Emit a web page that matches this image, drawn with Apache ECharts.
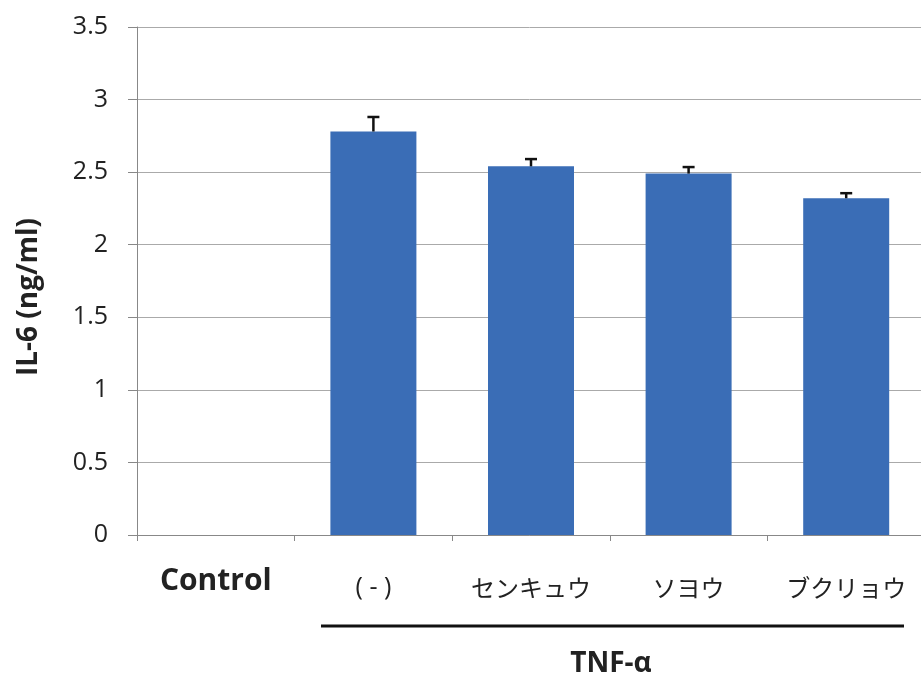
<!DOCTYPE html>
<html><head><meta charset="utf-8">
<script src="https://cdn.jsdelivr.net/npm/echarts@6/dist/echarts.min.js"></script>
<style>html,body{margin:0;padding:0;background:#fff}#c{width:921px;height:679px}</style>
</head><body><div id="c"></div>
<script>
var categories = ['Control', '( - )', 'センキュウ', 'ソヨウ', 'ブクリョウ'];
var means = [0, 2.78, 2.54, 2.49, 2.32];
var errTops = [0, 2.88, 2.59, 2.535, 2.355];
var yTicks = [0, 0.5, 1, 1.5, 2, 2.5, 3, 3.5];
var yTitle = 'IL-6 (ng/ml)';
var groupLabel = 'TNF-\u03b1';

var chart = echarts.init(document.getElementById('c'));
var font = '"Open Sans","Noto Sans CJK JP",sans-serif';
var jfont = '"Noto Sans CJK JP","Open Sans",sans-serif';
chart.setOption({
  animation: false,
  grid: {left: 137, top: 27, width: 788, height: 508, containLabel: false, outerBoundsMode: 'none'},
  xAxis: {
    type: 'category', data: categories,
    axisLine: {lineStyle: {color: '#888', width: 1}},
    axisTick: {show: true, length: 6, lineStyle: {color: '#888'}},
    axisLabel: {
      margin: 38, color: '#222',
      formatter: function (v, i) { return i === 0 ? '{b|' + v + '}' : (i === 1 ? '{p|' + v + '}' : '{r|' + v + '}'); },
      rich: {
        b: {fontWeight: 'bold', fontSize: 30, lineHeight: 16, color: '#222', fontFamily: font},
        p: {fontSize: 25, lineHeight: 30, color: '#222', fontFamily: font},
        r: {fontSize: 24, lineHeight: 30, color: '#222', fontFamily: jfont}
      }
    }
  },
  yAxis: {
    type: 'value', min: 0, max: 3.5, interval: 0.5,
    axisLine: {show: true, lineStyle: {color: '#888'}},
    axisTick: {show: true, inside: false, length: 9, lineStyle: {color: '#888'}},
    axisLabel: {margin: 29, fontSize: 25, color: '#222', fontFamily: font,
      formatter: function (v) { return yTicks.indexOf(v) >= 0 ? String(v) : ''; }},
    splitLine: {lineStyle: {color: '#aaa', width: 1}}
  },
  series: [{
    type: 'bar', data: means, barWidth: 86,
    itemStyle: {color: '#3a6db6'}, z: 2
  }, {
    type: 'custom', z: 3,
    data: means.map(function (m, i) { return [i, m, errTops[i]]; }),
    renderItem: function (params, api) {
      if (api.value(2) <= api.value(1)) return null;
      var b = api.coord([api.value(0), api.value(1)]);
      var t = api.coord([api.value(0), api.value(2)]);
      var w = 6;
      var st = {stroke: '#111', lineWidth: 2.5};
      return {type: 'group', children: [
        {type: 'line', shape: {x1: b[0], y1: b[1], x2: t[0], y2: t[1]}, style: st},
        {type: 'line', shape: {x1: t[0] - w, y1: t[1], x2: t[0] + w, y2: t[1]}, style: st}
      ]};
    }
  }],
  graphic: [
    {type: 'text', x: 29, y: 297, rotation: Math.PI / 2, style: {text: yTitle, fontSize: 28, fontWeight: 'bold', fill: '#222', fontFamily: font, align: 'center', verticalAlign: 'middle'}},
    {type: 'line', shape: {x1: 321, y1: 626, x2: 904, y2: 626}, style: {stroke: '#111', lineWidth: 3}},
    {type: 'text', x: 611, y: 664, style: {text: groupLabel, fontSize: 28, fontWeight: 'bold', fill: '#222', fontFamily: font, align: 'center', verticalAlign: 'middle'}}
  ]
});
</script></body></html>
